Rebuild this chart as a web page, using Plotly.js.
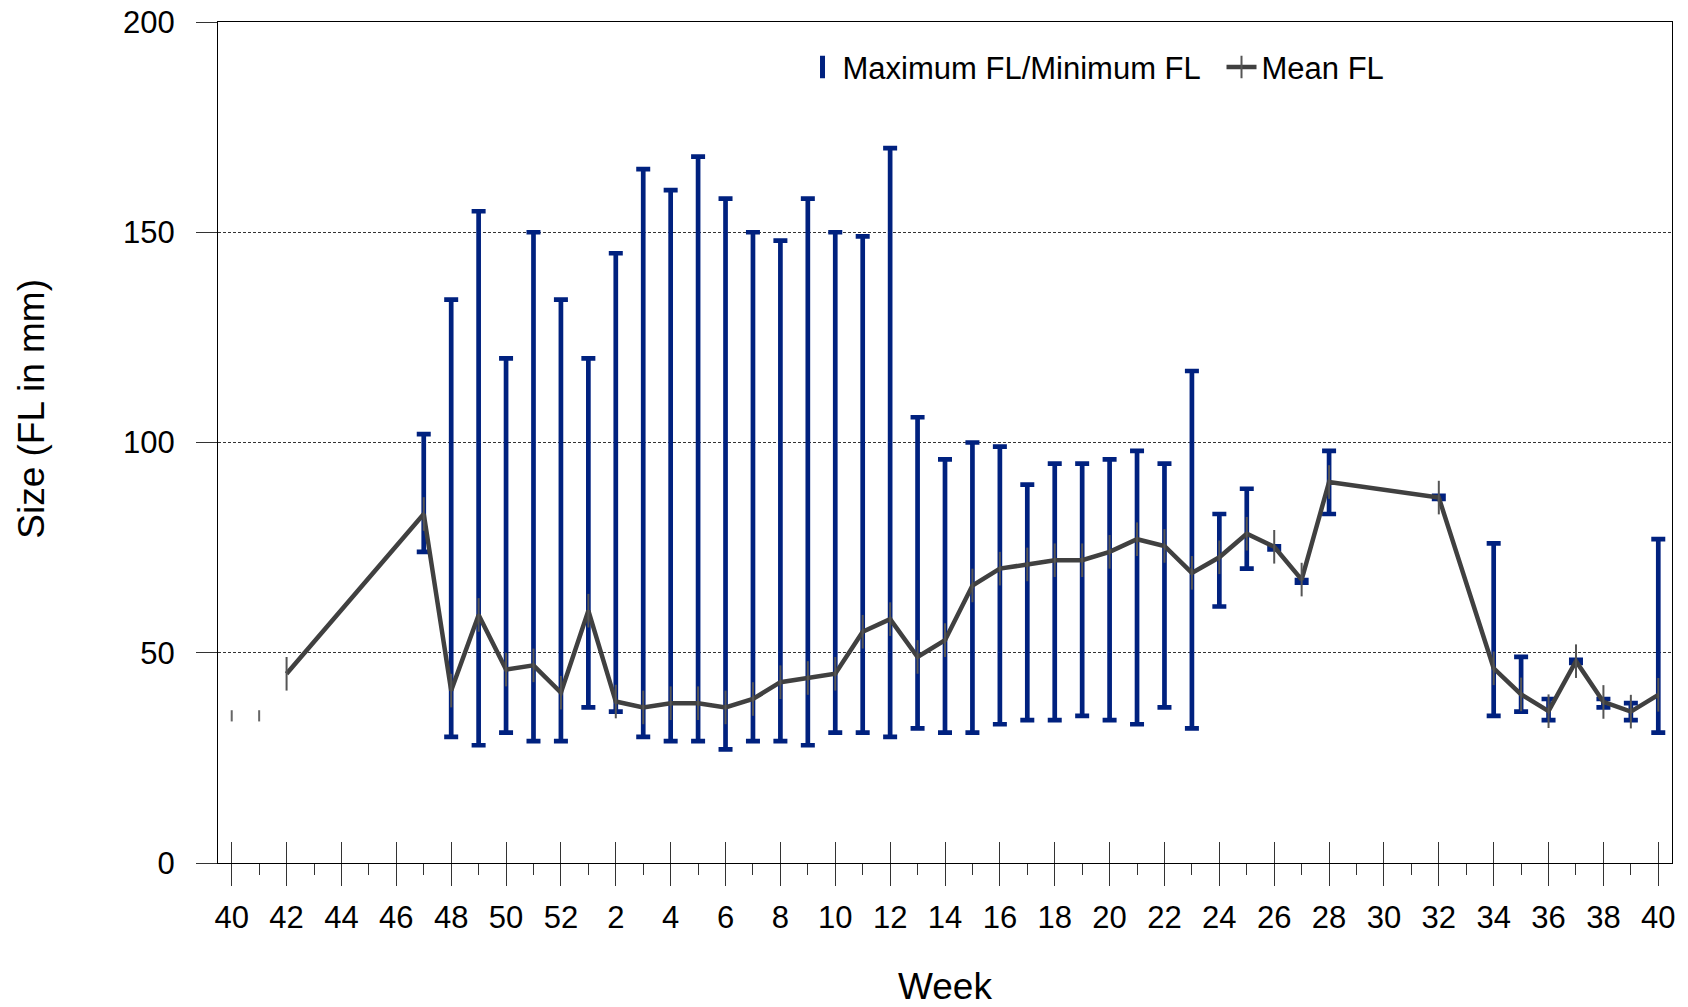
<!DOCTYPE html>
<html>
<head>
<meta charset="utf-8">
<script src="https://cdn.plot.ly/plotly-3.0.1.min.js"></script>
<style>
  html, body { margin: 0; padding: 0; background: #ffffff; }
  #chart { width: 1688px; height: 1007px; }
</style>
</head>
<body>
<div id="chart"></div>
<script>
// Week labels (week 40 of one year through week 40 of the next)
const weeks = [40, 41, 42, 43, 44, 45, 46, 47, 48, 49, 50, 51, 52,
  1, 2, 3, 4, 5, 6, 7, 8, 9, 10, 11, 12, 13, 14, 15, 16, 17, 18, 19, 20,
  21, 22, 23, 24, 25, 26, 27, 28, 29, 30, 31, 32, 33, 34, 35, 36, 37, 38, 39, 40];

// Maximum fork length (mm) per week
const maxFL = [null, null, null, null, null, null, null, 102, 134, 155, 120, 150, 134,
  120, 145, 165, 160, 168, 158, 150, 148, 158, 150, 149, 170, 106, 96, 100, 99, 90, 95, 95, 96,
  98, 95, 117, 83, 89, 75.3, 67.3, 98, null, null, null, 87.3, null, 76, 49, 39, 48.3, 39, 38, 77];

// Minimum fork length (mm) per week
const minFL = [null, null, null, null, null, null, null, 74, 30, 28, 31, 29, 29,
  37, 36, 30, 29, 29, 27, 29, 29, 28, 31, 31, 30, 32, 31, 31, 33, 34, 34, 35, 34,
  33, 37, 32, 61, 70, 74.6, 66.7, 83, null, null, null, 86.6, null, 35, 36, 34, 47.6, 37, 34, 31];

// Mean fork length (mm) per week
const meanFL = [35, 35, 45, null, null, null, null, 83, 41, 59, 46, 47, 40.5,
  60, 38.4, 37, 38, 38, 37, 39, 43, 44, 45, 55, 58, 49, 53, 66, 70, 71, 72, 72, 74,
  77, 75.4, 69, 72.7, 78.3, 75.2, 67.4, 90.6, null, null, null, 86.9, null, 46.3, 40.1, 36.1, 48, 38.3, 36, 40];

const idx = weeks.map((w, i) => i);
const majorVals = idx.filter(i => i % 2 === 0);
const majorText = majorVals.map(i => String(weeks[i]));
const minorVals = idx.filter(i => i % 2 === 1);

const BLUE = '#00217F';
const GREY = '#404040';
const FONT = 'Liberation Sans, Arial, sans-serif';

// error-bar trace built from min / max arrays
const barX = [], barY = [], barMinus = [], barPlus = [];
idx.forEach(i => {
  if (maxFL[i] !== null && minFL[i] !== null) {
    barX.push(i); barY.push(maxFL[i]);
    barMinus.push(maxFL[i] - minFL[i]); barPlus.push(0);
  }
});

const rangeTrace = {
  type: 'scatter', mode: 'markers', x: barX, y: barY,
  marker: { size: 1, color: 'rgba(0,0,0,0)' },
  error_y: { type: 'data', symmetric: false, array: barPlus, arrayminus: barMinus,
    color: BLUE, thickness: 4.7, width: 7 },
  showlegend: false, hoverinfo: 'skip'
};

const rangeLegend = {
  type: 'scatter', mode: 'markers', x: [null], y: [null],
  name: 'Maximum FL/Minimum FL',
  marker: { symbol: 'line-ns', size: 16, color: BLUE, line: { color: BLUE, width: 5 } }
};

const meanTrace = {
  type: 'scatter', mode: 'lines+markers', name: 'Mean FL',
  x: idx.filter(i => i >= 2), y: idx.filter(i => i >= 2).map(i => meanFL[i]),
  connectgaps: true,
  line: { color: GREY, width: 4.5 },
  marker: { symbol: 'line-ns', size: 24, color: '#555555', line: { color: '#555555', width: 2 } }
};

// isolated early means (not joined to the line) drawn on the overlay axis
const earlyMean = {
  type: 'scatter', mode: 'markers', xaxis: 'x2', yaxis: 'y',
  x: idx.filter(i => i < 2), y: idx.filter(i => i < 2).map(i => meanFL[i]),
  marker: { symbol: 'line-ns', size: 8, color: '#666666', line: { color: '#666666', width: 2 } },
  showlegend: false, hoverinfo: 'skip'
};

const layout = {
  width: 1688, height: 1007,
  margin: { l: 218, r: 16, t: 22, b: 144 },
  paper_bgcolor: '#ffffff', plot_bgcolor: '#ffffff',
  font: { family: FONT, color: '#000000', size: 31 },
  showlegend: true,
  legend: {
    orientation: 'h', x: 0.402, xanchor: 'left', y: 0.946, yanchor: 'middle',
    font: { family: FONT, size: 31, color: '#000000' },
    bgcolor: 'rgba(0,0,0,0)', traceorder: 'normal',
    entrywidth: 374, entrywidthmode: 'pixels'
  },
  xaxis: {
    range: [-0.5, 52.5], tickmode: 'array', tickvals: majorVals, ticktext: majorText,
    ticks: 'outside', ticklen: 22, tickwidth: 1, tickcolor: '#333333',
    minor: { tickmode: 'array', tickvals: minorVals, ticks: 'outside', ticklen: 11, tickwidth: 1, tickcolor: '#333333', showgrid: false },
    showline: true, linecolor: '#000000', linewidth: 1, mirror: true,
    showgrid: false, zeroline: false,
    tickfont: { family: FONT, size: 31, color: '#000000' },
    ticklabelstandoff: 5,
    title: { text: 'Week', font: { family: FONT, size: 37, color: '#000000' }, standoff: 51 }
  },
  xaxis2: {
    overlaying: 'x', anchor: 'y', side: 'bottom',
    range: [-0.5, 52.5], tickmode: 'array', tickvals: majorVals,
    ticks: 'inside', ticklen: 21, tickwidth: 1, tickcolor: '#333333',
    showticklabels: false, showgrid: false, showline: false, zeroline: false
  },
  yaxis: {
    range: [0, 200], tickmode: 'array', tickvals: [0, 50, 100, 150, 200],
    ticks: 'outside', ticklen: 21, tickwidth: 1, tickcolor: '#333333',
    showline: true, linecolor: '#000000', linewidth: 1, mirror: true,
    showgrid: true, gridcolor: '#333333', gridwidth: 1, griddash: '3px,2px',
    zeroline: false,
    tickfont: { family: FONT, size: 31, color: '#000000' },
    ticklabelstandoff: 15
  },
  annotations: [{
    text: 'Size (FL in mm)', xref: 'paper', yref: 'paper', x: -0.1283, y: 0.5407,
    xanchor: 'center', yanchor: 'middle', textangle: -90, showarrow: false,
    font: { family: FONT, size: 37, color: '#000000' }
  }]
};

Plotly.newPlot('chart', [rangeTrace, earlyMean, rangeLegend, meanTrace], layout, { displayModeBar: false, staticPlot: true });
</script>
</body>
</html>
